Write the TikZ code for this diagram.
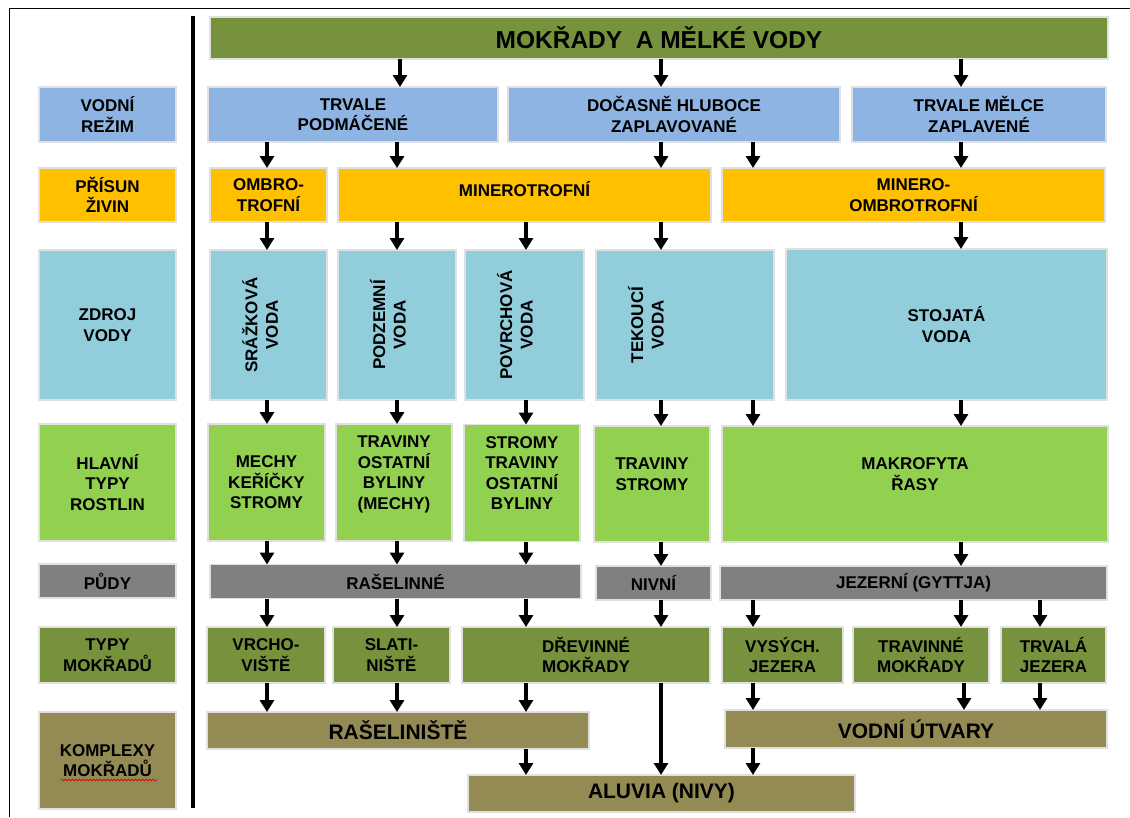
\documentclass[tikz,border=0pt]{standalone}
\usepackage{fontspec}
\setmainfont{Liberation Sans}
\usepackage{xcolor}
\usetikzlibrary{arrows.meta, positioning, decorations.pathmorphing}

\definecolor{wetolive}{HTML}{76923C}
\definecolor{regblue}{HTML}{8DB4E2}
\definecolor{nutorange}{HTML}{FFC000}
\definecolor{srcblue}{HTML}{92CDDC}
\definecolor{plantgreen}{HTML}{92D050}
\definecolor{soilgray}{HTML}{808080}
\definecolor{cplxbrown}{HTML}{948A54}

\begin{document}
\begin{tikzpicture}[x=1pt, y=-1pt,
    box/.style={draw=black!12, line width=1.5pt, inner sep=2pt, outer sep=0pt, align=center, font=\bfseries\fontsize{17}{20.5}\selectfont},
    lbl/.style={box, minimum width=137pt},
    lift/.style={text depth=#1},
    big/.style={font=\bfseries\fontsize{21}{25}\selectfont},
    vtext/.style={rotate=90, align=center, inner sep=0pt, font=\bfseries\fontsize{17}{20.5}\selectfont},
    arr/.style={line width=3.2pt, -{Triangle[length=12pt, width=14pt]}}]

        \useasboundingbox (0,0) rectangle (1130,817);

        % Frame and divider
        \draw[line width=0.8pt] (1130,8.5) -- (9.5,8.5) -- (9.5,817);
        \draw[line width=4pt] (193,16) -- (193,808);

        % Title
        \node[box, fill=wetolive, minimum width=898pt, minimum height=42pt, font=\bfseries\fontsize{24.5}{28}\selectfont] (top) at (659,38) {MOKŘADY\ \ A MĚLKÉ VODY};

        % Row labels
        \node[lbl, fill=regblue, minimum height=55pt] (lreg) at (107.5,114.5) {VODNÍ\\REŽIM};
        \node[lbl, fill=nutorange, minimum height=54pt] (lnut) at (107.5,195) {PŘÍSUN\\ŽIVIN};
        \node[lbl, fill=srcblue, minimum height=150pt] (lsrc) at (107.5,325) {ZDROJ\\VODY};
        \node[lbl, fill=plantgreen, minimum height=117pt] (lplant) at (107.5,482.5) {HLAVNÍ\\TYPY\\ROSTLIN};
        \node[lbl, fill=soilgray, minimum height=34pt] (lsoil) at (107.5,581) {PŮDY};
        \node[lbl, fill=wetolive, minimum height=56pt] (ltype) at (107.5,655) {TYPY\\MOKŘADŮ};
        \node[lbl, fill=cplxbrown, minimum height=97pt] (lcplx) at (107.5,760.5) {KOMPLEXY\\MOKŘADŮ};
        \draw[red!85!black, line width=0.7pt, decorate, decoration={snake, amplitude=0.9pt, segment length=3.5pt}] (61,780) -- (157,780);

        % Water regime
        \node[box, fill=regblue, minimum width=290pt, minimum height=55pt] (reg1) at (353,114.5) {TRVALE\\PODMÁČENÉ};
        \node[box, fill=regblue, minimum width=332pt, minimum height=55pt] (reg2) at (674,114.5) {DOČASNĚ HLUBOCE\\ZAPLAVOVANÉ};
        \node[box, fill=regblue, minimum width=254pt, minimum height=55pt] (reg3) at (979,114.5) {TRVALE MĚLCE\\ZAPLAVENÉ};

        % Nutrient supply
        \node[box, fill=nutorange, minimum width=117pt, minimum height=54pt] (nut1) at (268.5,195) {OMBRO-\\TROFNÍ};
        \node[box, fill=nutorange, minimum width=373pt, minimum height=54pt, lift=12pt] (nut2) at (524.5,195) {MINEROTROFNÍ};
        \node[box, fill=nutorange, minimum width=383pt, minimum height=54pt] (nut3) at (913.5,195) {MINERO-\\OMBROTROFNÍ};

        % Water source
        \node[box, fill=srcblue, minimum width=117pt, minimum height=150pt] (src1) at (268.5,325) {};
        \node[box, fill=srcblue, minimum width=118pt, minimum height=150pt] (src2) at (397,325) {};
        \node[box, fill=srcblue, minimum width=119pt, minimum height=150pt] (src3) at (524.5,325) {};
        \node[box, fill=srcblue, minimum width=178pt, minimum height=150pt] (src4) at (685,325) {};
        \node[box, fill=srcblue, minimum width=321pt, minimum height=151pt] (src5) at (946.5,324.5) {STOJATÁ\\VODA};
        \node[vtext] (src1t) at ([xshift=50pt]src1.west) {SRÁŽKOVÁ\\VODA};
        \node[vtext] (src2t) at ([xshift=50pt]src2.west) {PODZEMNÍ\\VODA};
        \node[vtext] (src3t) at ([xshift=50pt]src3.west) {POVRCHOVÁ\\VODA};
        \node[vtext] (src4t) at ([xshift=50pt]src4.west) {TEKOUCÍ\\VODA};

        % Main plant types
        \node[box, fill=plantgreen, minimum width=117pt, minimum height=117pt] (pl1) at (266.5,482.5) {MECHY\\KEŘÍČKY\\STROMY};
        \node[box, fill=plantgreen, minimum width=116pt, minimum height=117pt, lift=20pt] (pl2) at (394,482.5) {TRAVINY\\OSTATNÍ\\BYLINY\\(MECHY)};
        \node[box, fill=plantgreen, minimum width=116pt, minimum height=117pt, lift=20pt] (pl3) at (522,483) {STROMY\\TRAVINY\\OSTATNÍ\\BYLINY};
        \node[box, fill=plantgreen, minimum width=116pt, minimum height=116pt, lift=20pt] (pl4) at (652,484) {TRAVINY\\STROMY};
        \node[box, fill=plantgreen, minimum width=386pt, minimum height=116pt, lift=20pt] (pl5) at (915,484) {MAKROFYTA\\ŘASY};

        % Soils
        \node[box, fill=soilgray, minimum width=371pt, minimum height=34pt] (soil1) at (395.5,581.5) {RAŠELINNÉ};
        \node[box, fill=soilgray, minimum width=115pt, minimum height=34pt] (soil2) at (653.5,583) {NIVNÍ};
        \node[box, fill=soilgray, minimum width=387pt, minimum height=34pt] (soil3) at (913.5,583) {JEZERNÍ (GYTTJA)};

        % Wetland types
        \node[box, fill=wetolive, minimum width=118pt, minimum height=56pt] (typ1) at (266,655) {VRCHO-\\VIŠTĚ};
        \node[box, fill=wetolive, minimum width=117pt, minimum height=56pt] (typ2) at (391.5,655) {SLATI-\\NIŠTĚ};
        \node[box, fill=wetolive, minimum width=248pt, minimum height=56pt] (typ3) at (586,655) {DŘEVINNÉ\\MOKŘADY};
        \node[box, fill=wetolive, minimum width=121pt, minimum height=56pt] (typ4) at (782.5,655) {VYSÝCH.\\JEZERA};
        \node[box, fill=wetolive, minimum width=136pt, minimum height=56pt] (typ5) at (921,655) {TRAVINNÉ\\MOKŘADY};
        \node[box, fill=wetolive, minimum width=105pt, minimum height=56pt] (typ6) at (1053.5,655) {TRVALÁ\\JEZERA};

        % Wetland complexes
        \node[box, big, fill=cplxbrown, minimum width=382pt, minimum height=37pt] (cx1) at (398,730.5) {RAŠELINIŠTĚ};
        \node[box, big, fill=cplxbrown, minimum width=382pt, minimum height=38pt] (cx2) at (916,729) {VODNÍ ÚTVARY};
        \node[box, big, fill=cplxbrown, minimum width=387pt, minimum height=37pt] (cx3) at (661.5,793.5) {ALUVIA (NIVY)};

        % Arrows
        \foreach \x/\a/\b in {400/top/reg1, 661/top/reg2, 961/top/reg3,
                267/reg1/nut1, 397/reg1/nut2, 661/reg2/nut2, 753/reg2/nut3, 961/reg3/nut3,
                267/nut1/src1, 397/nut2/src2, 526/nut2/src3, 661/nut2/src4, 961/nut3/src5,
                267/src1/pl1, 397/src2/pl2, 526/src3/pl3, 661/src4/pl4, 753/src4/pl5, 961/src5/pl5,
                267/pl1/soil1, 397/pl2/soil1, 526/pl3/soil1, 661/pl4/soil2, 961/pl5/soil3,
                267/soil1/typ1, 397/soil1/typ2, 526/soil1/typ3, 661/soil2/typ3, 753/soil3/typ4, 961/soil3/typ5, 1040/soil3/typ6,
                267/typ1/cx1, 397/typ2/cx1, 526/typ3/cx1, 661/typ3/cx3, 753/typ4/cx2, 964/typ5/cx2, 1040/typ6/cx2,
                526/cx1/cx3, 753/cx2/cx3} {
            \draw[arr] (\a.south -| \x,0) -- (\b.north -| \x,0);
        }
    \end{tikzpicture}
\end{document}
